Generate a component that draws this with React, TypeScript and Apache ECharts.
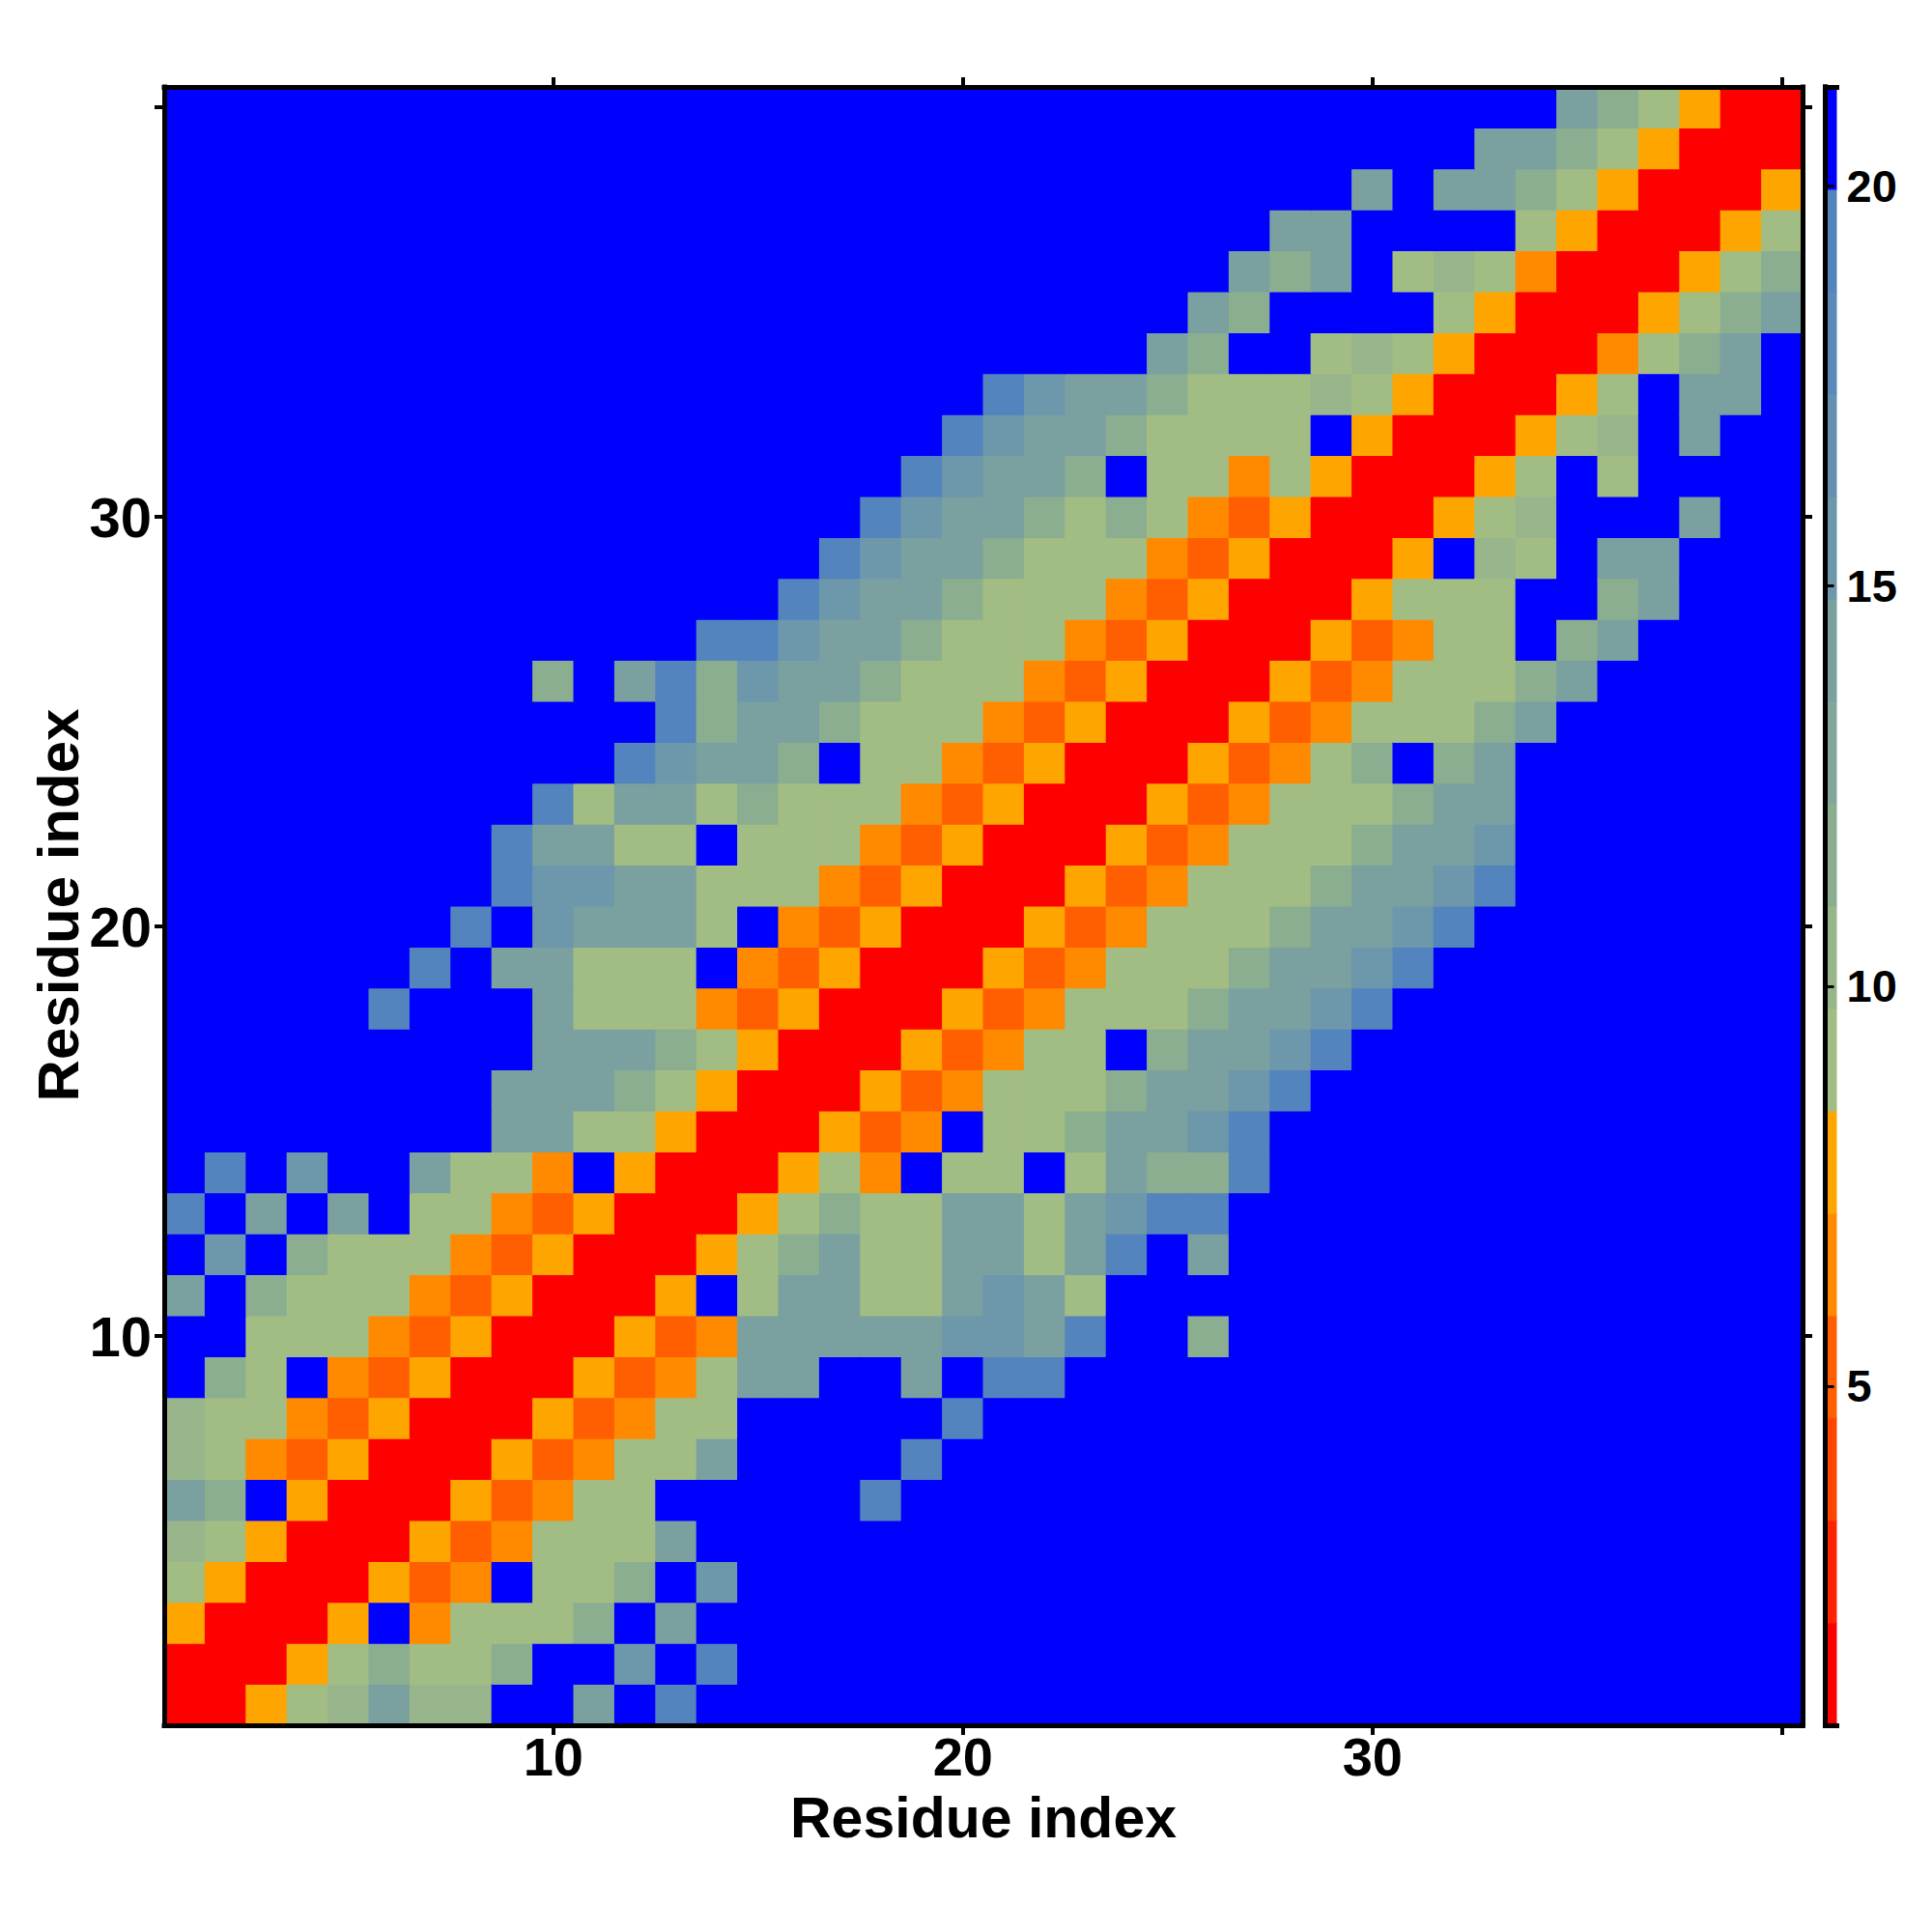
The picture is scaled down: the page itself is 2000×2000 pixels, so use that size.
import React, { useEffect, useRef } from "react";
import * as echarts from "echarts";

// ---------- data ----------
const RESIDUE_COUNT = 40;
const RESIDUES: string[] = Array.from({ length: RESIDUE_COUNT }, (_, i) => String(i + 1));

// One string per residue row y = 1..40 holding the class of cells x = ..y
// (the string ends on the diagonal; missing leading cells are far / blue 'B').
// The map is symmetric, so the other half is mirrored.
const ROW_CLASSES: string[] = [
  "R",
  "RR",
  "ORR",
  "gORR",
  "kgORR",
  "thBORR",
  "kgDoORR",
  "kggDoORR",
  "hgBDoORR",
  "gggDoORR",
  "tBhgggDoORR",
  "sBhgggDoORR",
  "SBtBtBggDoORR",
  "SBsBBtggDBORR",
  "ttggORR",
  "ttthgORR",
  "ttthgORR",
  "SBBBtgggDoORR",
  "SBttgggBDoORR",
  "SBstttgBDoORR",
  "SssttgggDoORR",
  "SttggBgggDoORR",
  "SgttghgggDoORR",
  "SstthBggDoORR",
  "ShtthgggDoORR",
  "hBtShstthgggDoORR",
  "SSstthgggDoORR",
  "SstthgggDoORR",
  "SstthgggDoORR",
  "SstthghgDoORR",
  "SstthBggDgORR",
  "SstthggggBORR",
  "SstthgggkgORR",
  "thBBgkgORR",
  "thBBBBgORR",
  "thtBgkgDRR",
  "ttBBBBgORR",
  "tBtthgORR",
  "tthgORR",
  "thgORR",
];

// Distance estimated for each colour class seen in the picture
const CLASS_DISTANCE: Record<string, number> = {
  R: 1.4,
  o: 5.2,
  D: 6.5,
  O: 7.8,
  g: 9.1,
  k: 10.4,
  h: 11.6,
  t: 14.2,
  s: 15.5,
  S: 19.3,
  B: 20.6,
};

const BAND_EDGES: number[] = [
  0.76, 2.04, 3.32, 4.6, 5.88, 7.16, 8.44, 9.72, 11.0, 12.28, 13.56, 14.84, 16.12, 17.4, 18.68,
  19.96, 21.24,
];
const BAND_COLORS: string[] = [
  "#ff0000",
  "#ff2400",
  "#ff4500",
  "#ff5f00",
  "#ff8a00",
  "#ffa500",
  "#a2bd84",
  "#98b58c",
  "#8aae8f",
  "#82a79a",
  "#7aa0a0",
  "#6d97aa",
  "#6590b2",
  "#5b89b9",
  "#5484bd",
  "#0000ff",
];

const AXIS_TICK_VALUES = [10, 20, 30, 40];
const AXIS_LABEL_VALUES = [10, 20, 30];
const COLORBAR_TICK_VALUES = [5, 10, 15, 20];
const AXIS_TITLE = "Residue index";

// ---------- build ----------
function buildCells(): [number, number, number][] {
  const cells: [number, number, number][] = [];
  ROW_CLASSES.forEach((raw, yi) => {
    const y = yi + 1;
    const row = raw.padStart(y, "B");
    for (let x = 1; x <= y; x++) {
      const v = CLASS_DISTANCE[row[x - 1]];
      cells.push([x - 1, y - 1, v]);
      if (x !== y) cells.push([y - 1, x - 1, v]);
    }
  });
  return cells;
}

const FONT = "'Liberation Sans', Arial, Helvetica, sans-serif";

export default function App() {
  const ref = useRef<HTMLDivElement>(null);

  useEffect(() => {
    document.body.style.margin = "0";
    if (!ref.current) return;
    const chart = echarts.init(ref.current, undefined, { renderer: "svg" });

    const frame = { show: true, lineStyle: { color: "#000", width: 5, cap: "square" } };
    const tickShown = (i: number) => AXIS_TICK_VALUES.includes(i + 1);
    const labelShown = (i: number) => AXIS_LABEL_VALUES.includes(i + 1);
    const mainTick = {
      show: true,
      interval: tickShown,
      alignWithLabel: true,
      inside: false,
      length: 10,
      lineStyle: { color: "#000", width: 4 },
    };
    const labelStyle = {
      color: "#000",
      fontSize: 56,
      lineHeight: 44,
      fontWeight: "bold",
      fontFamily: FONT,
    };

    const mainGrid = { left: 170, top: 90, width: 1696, height: 1696 };
    const barGrid = { left: 1889.5, top: 90, width: 12, height: 1696 };

    const option: any = {
      animation: false,
      backgroundColor: "#ffffff",
      grid: [
        { ...mainGrid, containLabel: false, show: false },
        { ...barGrid, containLabel: false, show: false },
      ],
      xAxis: [
        {
          gridIndex: 0,
          type: "category",
          data: RESIDUES,
          position: "bottom",
          z: 5,
          axisLine: frame,
          axisTick: mainTick,
          axisLabel: { ...labelStyle, interval: labelShown, margin: 10 },
          splitLine: { show: false },
        },
        {
          gridIndex: 0,
          type: "category",
          data: RESIDUES,
          position: "top",
          z: 5,
          axisLine: frame,
          axisTick: mainTick,
          axisLabel: { show: false },
          splitLine: { show: false },
        },
        {
          gridIndex: 1,
          type: "value",
          min: 0,
          max: 1,
          position: "bottom",
          z: 5,
          axisLine: frame,
          axisTick: { show: false },
          axisLabel: { show: false },
          splitLine: { show: false },
        },
        {
          gridIndex: 1,
          type: "value",
          min: 0,
          max: 1,
          position: "top",
          z: 5,
          axisLine: frame,
          axisTick: { show: false },
          axisLabel: { show: false },
          splitLine: { show: false },
        },
      ],
      yAxis: [
        {
          gridIndex: 0,
          type: "category",
          data: RESIDUES,
          position: "left",
          z: 5,
          axisLine: frame,
          axisTick: mainTick,
          axisLabel: { ...labelStyle, fontSize: 58, interval: labelShown, margin: 13 },
          splitLine: { show: false },
        },
        {
          gridIndex: 0,
          type: "category",
          data: RESIDUES,
          position: "right",
          z: 5,
          axisLine: frame,
          axisTick: mainTick,
          axisLabel: { show: false },
          splitLine: { show: false },
        },
        {
          gridIndex: 1,
          type: "value",
          min: BAND_EDGES[0],
          max: BAND_EDGES[BAND_EDGES.length - 1],
          position: "right",
          z: 5,
          axisLine: frame,
          axisTick: {
            show: true,
            customValues: COLORBAR_TICK_VALUES,
            length: 9,
            lineStyle: { color: "#000", width: 3 },
          },
          axisLabel: {
            customValues: COLORBAR_TICK_VALUES,
            color: "#000",
            fontSize: 47,
            fontWeight: "bold",
            fontFamily: FONT,
            margin: 10,
          },
          splitLine: { show: false },
        },
        {
          gridIndex: 1,
          type: "value",
          min: BAND_EDGES[0],
          max: BAND_EDGES[BAND_EDGES.length - 1],
          position: "left",
          z: 5,
          axisLine: frame,
          axisTick: { show: false },
          axisLabel: { show: false },
          splitLine: { show: false },
        },
      ],
      visualMap: {
        type: "piecewise",
        show: false,
        seriesIndex: 0,
        dimension: 2,
        pieces: BAND_COLORS.map((c, i) => ({ gte: BAND_EDGES[i], lt: BAND_EDGES[i + 1], color: c })),
      },
      series: [
        {
          type: "custom",
          xAxisIndex: 0,
          yAxisIndex: 0,
          silent: true,
          data: buildCells(),
          encode: { x: 0, y: 1 },
          renderItem: (_params: any, api: any) => {
            const c = api.coord([api.value(0), api.value(1)]);
            const size = api.size([1, 1]);
            return {
              type: "rect",
              shape: {
                x: c[0] - size[0] / 2 - 0.5,
                y: c[1] - size[1] / 2 - 0.5,
                width: size[0] + 1,
                height: size[1] + 1,
              },
              style: { fill: api.visual("color") },
            };
          },
        },
        {
          type: "custom",
          xAxisIndex: 2,
          yAxisIndex: 2,
          silent: true,
          data: BAND_COLORS.map((_, i) => [BAND_EDGES[i], BAND_EDGES[i + 1], i]),
          encode: { y: [0, 1] },
          renderItem: (_params: any, api: any) => {
            const lo = api.value(0);
            const hi = api.value(1);
            const idx = api.value(2);
            const pTop = api.coord([0, hi]);
            const pBot = api.coord([1, lo]);
            return {
              type: "rect",
              shape: {
                x: pTop[0],
                y: pTop[1] - 0.5,
                width: pBot[0] - pTop[0],
                height: pBot[1] - pTop[1] + 1,
              },
              style: { fill: BAND_COLORS[idx] },
            };
          },
        },
      ],
      graphic: [
        {
          type: "text",
          x: 1018,
          y: 1882,
          style: {
            text: AXIS_TITLE,
            fill: "#000",
            font: `bold 59px ${FONT}`,
            lineHeight: 44,
            align: "center",
            verticalAlign: "middle",
          },
        },
        {
          type: "text",
          x: 60,
          y: 937,
          rotation: Math.PI / 2,
          style: {
            text: AXIS_TITLE,
            fill: "#000",
            font: `bold 60px ${FONT}`,
            lineHeight: 46,
            align: "center",
            verticalAlign: "middle",
          },
        },
      ],
    };

    chart.setOption(option);
    return () => chart.dispose();
  }, []);

  return (
    <div
      ref={ref}
      style={{ position: "absolute", left: 0, top: 0, width: 2000, height: 2000, background: "#fff" }}
    />
  );
}
